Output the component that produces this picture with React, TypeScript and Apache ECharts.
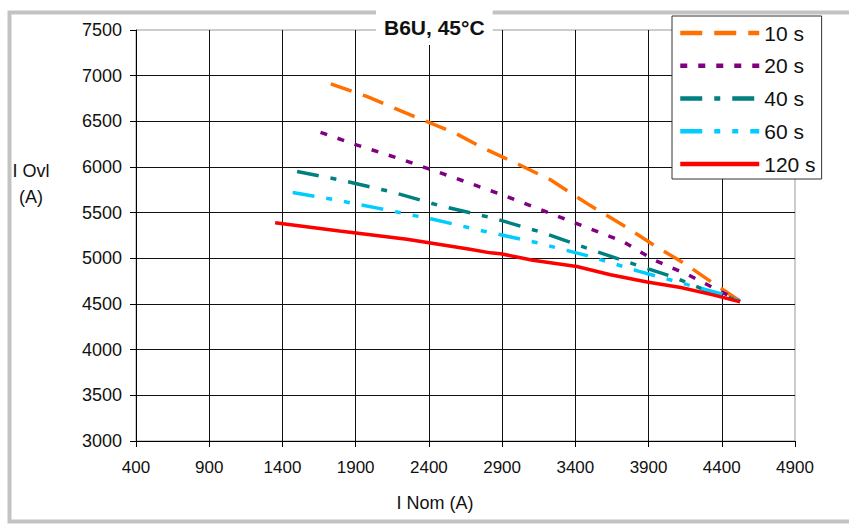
import React, { useEffect, useRef } from 'react';
import * as echarts from 'echarts';

const FONT = '"Liberation Sans", Arial, Helvetica, sans-serif';

const seriesNames = ['10 s', '20 s', '40 s', '60 s', '120 s'];

const s10X = [1730, 1980, 2200, 2350, 2580, 2780, 3010, 3230, 3500, 3750, 3960, 4150, 4330, 4525];
const s10Y = [6910, 6770, 6620, 6520, 6370, 6200, 6030, 5860, 5580, 5340, 5120, 4940, 4740, 4530];

const s20X = [1660, 1910, 2220, 2560, 2910, 3380, 3730, 3940, 4170, 4400, 4525];
const s20Y = [6380, 6240, 6080, 5890, 5690, 5400, 5180, 4980, 4820, 4630, 4530];

const s40X = [1500, 1790, 2140, 2490, 2840, 3180, 3480, 3830, 4060, 4290, 4525];
const s40Y = [5950, 5860, 5730, 5570, 5440, 5280, 5110, 4920, 4800, 4650, 4530];

const s60X = [1470, 1730, 2050, 2420, 2770, 3140, 3480, 3830, 4170, 4400, 4525];
const s60Y = [5720, 5650, 5550, 5430, 5300, 5170, 5030, 4860, 4710, 4610, 4530];

const s120X = [1350, 1790, 2250, 2680, 2820, 2890, 3110, 3410, 3640, 3890, 4120, 4340, 4525];
const s120Y = [5390, 5300, 5210, 5100, 5060, 5050, 4980, 4910, 4820, 4740, 4680, 4600, 4525];

const seriesX = [s10X, s20X, s40X, s60X, s120X];
const seriesY = [s10Y, s20Y, s40Y, s60Y, s120Y];

const colors = ['#FF7000', '#800080', '#008080', '#00CCFF', '#FF0000'];
const dashes: any[] = [[22, 12], [7, 11], [22, 12, 6, 12], [22, 12, 6, 12, 6, 12], 'solid'];

export default function App() {
  const ref = useRef<HTMLDivElement>(null);
  useEffect(() => {
    if (!ref.current) return;
    const chart = echarts.init(ref.current, undefined, { renderer: 'svg' });
    chart.setOption({
      animation: false,
      backgroundColor: '#fff',
      title: {
        text: 'B6U, 45°C',
        left: 376,
        top: 10,
        padding: [7, 8, 7, 8],
        backgroundColor: '#fff',
        textStyle: { fontSize: 21, fontWeight: 'bold', color: '#111', fontFamily: FONT },
      },
      legend: {
        orient: 'vertical',
        left: 672,
        top: 16,
        padding: [6, 6, 4, 6],
        itemWidth: 79,
        itemHeight: 14,
        itemGap: 10.75,
        backgroundColor: '#fff',
        borderColor: '#333',
        borderWidth: 1,
        data: seriesNames,
        itemStyle: { opacity: 0 },
        lineStyle: { width: 4.5 },
        textStyle: { fontSize: 21, color: '#111', fontFamily: FONT, lineHeight: 22 },
      },
      grid: {
        left: 136,
        right: 54,
        top: 30,
        bottom: 85,
        show: true,
        borderColor: '#999',
        borderWidth: 1,
        backgroundColor: 'transparent',
      },
      xAxis: {
        type: 'value',
        min: 400,
        max: 4900,
        interval: 500,
        axisLine: { show: true, lineStyle: { color: '#000', width: 1 } },
        axisTick: { show: true, inside: false, length: 6, lineStyle: { color: '#000' } },
        axisLabel: { margin: 18, fontSize: 17, color: '#111', fontFamily: FONT, formatter: (v: number) => String(v) },
        splitLine: { show: true, showMaxLine: false, lineStyle: { color: '#111', width: 1 } },
      },
      yAxis: {
        type: 'value',
        min: 3000,
        max: 7500,
        interval: 500,
        axisLine: { show: true, lineStyle: { color: '#000', width: 1 } },
        axisTick: { show: true, inside: false, length: 6, lineStyle: { color: '#000' } },
        axisLabel: { margin: 14, fontSize: 18, color: '#111', fontFamily: FONT, formatter: (v: number) => String(v) },
        splitLine: { show: true, showMaxLine: false, lineStyle: { color: '#111', width: 1 } },
      },
      graphic: [
        {
          type: 'rect',
          z: -1,
          shape: { x: 9.5, y: 12.5, width: 900, height: 509 },
          style: { fill: 'none', stroke: '#c3c3c3', lineWidth: 4 },
        },
        {
          type: 'text',
          x: 31,
          y: 171,
          style: { text: 'I Ovl', fontSize: 18, fontFamily: FONT, fill: '#111', textAlign: 'center', textVerticalAlign: 'middle' },
        },
        {
          type: 'text',
          x: 31,
          y: 197,
          style: { text: '(A)', fontSize: 18, fontFamily: FONT, fill: '#111', textAlign: 'center', textVerticalAlign: 'middle' },
        },
        {
          type: 'text',
          x: 435,
          y: 503,
          style: { text: 'I Nom (A)', fontSize: 18, fontFamily: FONT, fill: '#111', textAlign: 'center', textVerticalAlign: 'middle' },
        },
      ],
      series: seriesNames.map((name, i) => ({
        name,
        type: 'line',
        symbol: 'none',
        data: seriesX[i].map((x, j) => [x, seriesY[i][j]]),
        itemStyle: { color: colors[i] },
        lineStyle: { color: colors[i], width: 3.5, type: dashes[i] },
      })),
    });
    return () => chart.dispose();
  }, []);
  return (
    <div
      ref={ref}
      style={{ position: 'absolute', left: 0, top: 0, width: 849, height: 526 }}
    />
  );
}
